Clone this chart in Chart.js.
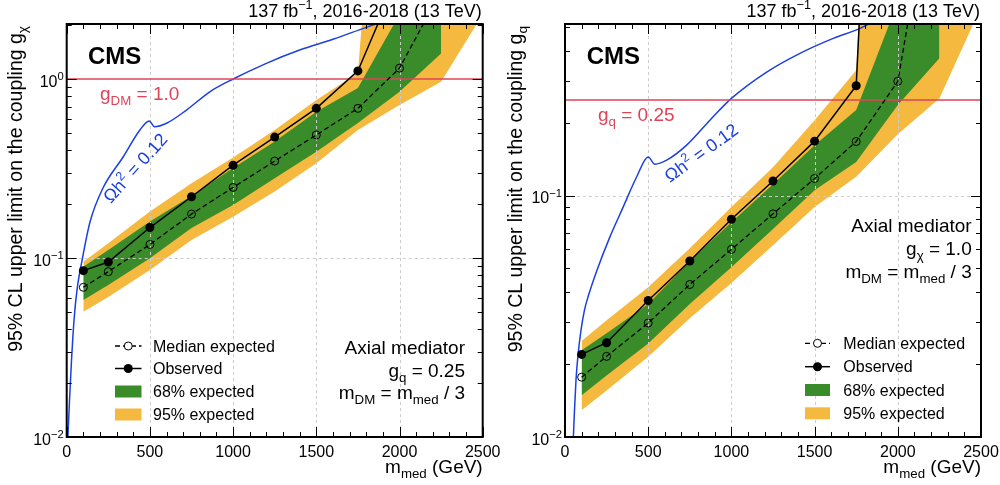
<!DOCTYPE html>
<html>
<head>
<meta charset="utf-8">
<script src="https://cdn.jsdelivr.net/npm/chart.js@4.4.1/dist/chart.umd.min.js"></script>
<style>
  html, body { margin: 0; padding: 0; background: #fff; }
  #wrap { position: relative; width: 1000px; height: 485px; }
  .panel { position: absolute; top: 0; width: 500px; height: 485px; }
</style>
</head>
<body>
<div id="wrap">
  <div class="panel" style="left:0"><canvas id="leftChart" width="500" height="485"></canvas></div>
  <div class="panel" style="left:500px"><canvas id="rightChart" width="500" height="485"></canvas></div>
</div>
<script>
// mediator masses (GeV)
const masses = [100, 250, 500, 750, 1000, 1250, 1500, 1750, 2000, 2250, 2500];

// left panel: limit on g_chi (g_q = 0.25)
const leftExpected = [0.0686, 0.0839, 0.119, 0.176, 0.248, 0.348, 0.487, 0.686, 1.15, 3.1, null];
const leftObserved = [0.085, 0.095, 0.148, 0.220, 0.330, 0.474, 0.686, 1.11, 3.9, null, null];
const left68Lo = [0.0583, 0.0707, 0.0996, 0.147, 0.198, 0.279, 0.393, 0.568, 0.849, 1.39, null];
const left68Hi = [0.0894, 0.111, 0.160, 0.222, 0.318, 0.447, 0.657, 0.891, 2.3, 10, null];
const left95Lo = [0.0501, 0.0605, 0.0857, 0.126, 0.170, 0.235, 0.338, 0.519, 0.716, 0.966, 2.3];
const left95Hi = [0.0954, 0.121, 0.182, 0.262, 0.365, 0.519, 0.763, 1.08, 1000, 1000, 1000];
const leftRelicMass = [6, 17, 29, 44, 62, 95, 140, 218, 340, 440, 496, 528, 600, 720, 860, 1000, 1200, 1400, 1600, 1800, 2000];
const leftRelicVal = [0.0095, 0.0161, 0.0269, 0.0450, 0.0663, 0.100, 0.159, 0.246, 0.368, 0.519, 0.583, 0.541, 0.566, 0.671, 0.849, 1.0, 1.224, 1.452, 1.667, 1.944, 2.25];
const leftCoupling = 1.0;

// right panel: limit on g_q (g_chi = 1.0)
const rightExpected = [0.0177, 0.0216, 0.0297, 0.0429, 0.060, 0.0842, 0.118, 0.168, 0.2985, 3.0, null];
const rightObserved = [0.0220, 0.0246, 0.0368, 0.0537, 0.080, 0.1153, 0.1686, 0.286, 1000, null, null];
const right68Lo = [0.0149, 0.0180, 0.0244, 0.0356, 0.0506, 0.0728, 0.1056, 0.138, 0.238, 0.372, null];
const right68Hi = [0.0229, 0.0269, 0.0356, 0.0536, 0.0778, 0.1118, 0.1623, 0.227, 0.637, 5, null];
const right95Lo = [0.0129, 0.0156, 0.0215, 0.0311, 0.0435, 0.0624, 0.0898, 0.120, 0.180, 0.2535, 0.607];
const right95Hi = [0.0250, 0.0305, 0.0418, 0.0607, 0.0898, 0.1315, 0.206, 0.332, 1000, 1000, 1000];
const rightRelicMass = [49, 57, 66, 78, 96, 117, 140, 190, 270, 350, 431, 500, 540, 611, 731, 871, 1000, 1212, 1412, 1612, 1773, 1900];
const rightRelicVal = [0.0095, 0.0129, 0.0172, 0.0218, 0.0277, 0.0336, 0.0384, 0.0487, 0.0676, 0.0900, 0.120, 0.145, 0.1353, 0.1406, 0.1623, 0.206, 0.2535, 0.326, 0.390, 0.450, 0.495, 0.55];
const rightCoupling = 0.25;

// axis ticks
const xTicks = [0, 500, 1000, 1500, 2000, 2500];
const xTickLabels = ['0', '500', '1000', '1500', '2000', '2500'];
const xGridValues = [500, 1000, 1500, 2000];
const leftYTicks = [0.01, 0.1, 1];
const leftYTickExp = ['−2', '−1', '0'];
const rightYTicks = [0.01, 0.1];
const rightYTickExp = ['−2', '−1'];
const legendLabels = ['Median expected', 'Observed', '68% expected', '95% expected'];

const FONT = '"Liberation Sans", Arial, Helvetica, sans-serif';
const GREEN = '#3a8c2a';
const YELLOW = '#f6b940';
const RED = '#de4458';
const BLUE = '#1c3fe0';

function setFont(ctx, size, bold) {
    ctx.font = (bold ? 'bold ' : '') + size + 'px ' + FONT;
}

// text with sub/superscripts: parts = [[text, ''|'sub'|'sup'], ...]
function drawRich(ctx, parts, x, y, size, opts) {
    opts = opts || {};
    const small = size * 0.7;
    let w = 0;
    const items = parts.map(([t, k]) => {
        const s = k ? small : size;
        setFont(ctx, s, opts.bold);
        const wd = ctx.measureText(t).width;
        w += wd;
        return { t, k, s, wd };
    });
    let cx = opts.align === 'right' ? x - w : opts.align === 'center' ? x - w / 2 : x;
    ctx.fillStyle = opts.color || '#000';
    ctx.textAlign = 'left';
    ctx.textBaseline = 'alphabetic';
    items.forEach(it => {
        setFont(ctx, it.s, opts.bold);
        const dy = it.k === 'sub' ? size * 0.28 : it.k === 'sup' ? -size * 0.42 : 0;
        ctx.fillText(it.t, cx, y + dy);
        cx += it.wd;
    });
}

function line(ctx, x1, y1, x2, y2) {
    ctx.beginPath();
    ctx.moveTo(x1, y1);
    ctx.lineTo(x2, y2);
    ctx.stroke();
}

function pts(xs, ys) {
    const out = [];
    xs.forEach((x, i) => { if (ys[i] !== null) out.push({ x, y: ys[i] }); });
    return out;
}

function makeDecor(panel) {
    return {
        id: 'decor',
        afterDatasetDraw(chart, args) {
            // grid goes above the bands, below the lines
            if (args.index !== 3) return;
            const { ctx, chartArea: a, scales: { x, y } } = chart;
            ctx.save();
            ctx.strokeStyle = '#cccccc';
            ctx.lineWidth = 1;
            ctx.setLineDash([3, 3]);
            xGridValues.forEach(v => {
                const px = Math.round(x.getPixelForValue(v)) + 0.5;
                line(ctx, px, a.top, px, a.bottom);
            });
            panel.yGrid.forEach(v => {
                const py = Math.round(y.getPixelForValue(v)) + 0.5;
                line(ctx, a.left, py, a.right, py);
            });
            ctx.restore();
        },
        afterDraw(chart) {
            const { ctx, chartArea: a, scales: { x, y } } = chart;
            ctx.save();

            // tick marks, inside the frame on all sides
            ctx.strokeStyle = '#000';
            ctx.lineWidth = 1;
            for (let v = 0; v <= 2500; v += 100) {
                const px = Math.round(x.getPixelForValue(v)) + 0.5;
                const len = v % 500 === 0 ? 10 : 5;
                line(ctx, px, a.bottom, px, a.bottom - len);
                line(ctx, px, a.top, px, a.top + len);
            }
            for (let d = -2; d <= 0; d++) {
                for (let k = 1; k <= 9; k++) {
                    const v = k * Math.pow(10, d);
                    if (v > panel.yMax) continue;
                    const py = Math.round(y.getPixelForValue(v)) + 0.5;
                    const len = k === 1 ? 10 : 5;
                    line(ctx, a.left, py, a.left + len, py);
                    line(ctx, a.right, py, a.right - len, py);
                }
            }

            // frame
            ctx.lineWidth = 2;
            ctx.strokeRect(a.left, a.top, a.right - a.left, a.bottom - a.top);

            // tick labels
            xTicks.forEach((v, i) => {
                drawRich(ctx, [[xTickLabels[i], '']], x.getPixelForValue(v), a.bottom + 20, 16, { align: 'center' });
            });
            panel.yTicks.forEach((v, i) => {
                drawRich(ctx, [['10', ''], [panel.yTickExp[i], 'sup']], a.left - 3, y.getPixelForValue(v) + 7.5, 16, { align: 'right' });
            });

            // axis titles
            drawRich(ctx, [['m', ''], ['med', 'sub'], [' (GeV)', '']], a.right, 473, 19, { align: 'right' });
            ctx.save();
            ctx.translate(21.5, 26);
            ctx.rotate(-Math.PI / 2);
            drawRich(ctx, [['95% CL upper limit on the coupling g', ''], [panel.ySub, 'sub']], 0, 0, 19.5, { align: 'right' });
            ctx.restore();

            // header and CMS
            drawRich(ctx, [['137 fb', ''], ['−1', 'sup'], [', 2016-2018 (13 TeV)', '']], a.right - 1, 17, 18, { align: 'right' });
            drawRich(ctx, [['CMS', '']], panel.cmsX, 64, 24, { bold: true });

            // coupling line label
            drawRich(ctx, panel.couplingLabel, panel.couplingPos[0], panel.couplingPos[1], 19, { color: RED });

            // relic density label
            ctx.save();
            ctx.translate(panel.relicPos[0], panel.relicPos[1]);
            ctx.rotate(panel.relicAngle * Math.PI / 180);
            drawRich(ctx, [['Ωh', ''], ['2', 'sup'], [' = 0.12', '']], 0, 0, 18, { color: BLUE });
            ctx.restore();

            // model annotation
            panel.annot.forEach((parts, i) => {
                drawRich(ctx, parts, panel.annotX, panel.annotY[i], 19, { align: 'right' });
            });

            // legend
            const [lx0, lx1, tx] = panel.legendX;
            const ly = panel.legendY;
            const mid = (lx0 + lx1) / 2;
            ctx.strokeStyle = '#000';
            ctx.lineWidth = 1.3;
            ctx.setLineDash([5, 3]);
            line(ctx, lx0, ly[0], lx1, ly[0]);
            ctx.setLineDash([]);
            ctx.fillStyle = '#fff';
            ctx.lineWidth = 1;
            ctx.beginPath();
            ctx.arc(mid, ly[0], 4, 0, Math.PI * 2);
            ctx.fill();
            ctx.stroke();
            ctx.lineWidth = 1.5;
            line(ctx, lx0, ly[1], lx1, ly[1]);
            ctx.fillStyle = '#000';
            ctx.beginPath();
            ctx.arc(mid, ly[1], 4.5, 0, Math.PI * 2);
            ctx.fill();
            ctx.fillStyle = GREEN;
            ctx.fillRect(lx0, ly[2] - 6, lx1 - lx0, 12);
            ctx.fillStyle = YELLOW;
            ctx.fillRect(lx0, ly[3] - 6, lx1 - lx0, 12);
            legendLabels.forEach((t, i) => {
                drawRich(ctx, [[t, '']], tx, ly[i] + 5.5, 16);
            });

            ctx.restore();
        }
    };
}

function buildChart(panel) {
    const ctx = document.getElementById(panel.id).getContext('2d');
    const none = 'rgba(0,0,0,0)';
    return new Chart(ctx, {
        type: 'line',
        data: {
            datasets: [
                { data: pts(masses, panel.b95Lo), borderColor: none, borderWidth: 0, pointRadius: 0, fill: false, order: 10 },
                { data: pts(masses, panel.b95Hi), borderColor: none, borderWidth: 0, pointRadius: 0, fill: '-1', backgroundColor: YELLOW, order: 9 },
                { data: pts(masses, panel.b68Lo), borderColor: none, borderWidth: 0, pointRadius: 0, fill: false, order: 8 },
                { data: pts(masses, panel.b68Hi), borderColor: none, borderWidth: 0, pointRadius: 0, fill: '-1', backgroundColor: GREEN, order: 7 },
                { data: pts(panel.relicMass, panel.relicVal), borderColor: BLUE, borderWidth: 1.5, pointRadius: 0, fill: false, cubicInterpolationMode: 'monotone', order: 5 },
                { data: [{ x: 0, y: panel.coupling }, { x: 2500, y: panel.coupling }], borderColor: RED, borderWidth: 1.5, pointRadius: 0, fill: false, order: 4 },
                { data: pts(masses, panel.expected), borderColor: '#000', borderWidth: 1.3, borderDash: [5, 3], fill: false,
                  pointRadius: 4, pointBorderWidth: 1, pointBackgroundColor: none, pointBorderColor: '#000', order: 3 },
                { data: pts(masses, panel.observed), borderColor: '#000', borderWidth: 1.5, fill: false,
                  pointRadius: 4.5, pointBorderWidth: 0, pointBackgroundColor: '#000', pointBorderColor: '#000', order: 2 }
            ]
        },
        options: {
            responsive: false,
            animation: false,
            devicePixelRatio: 1,
            layout: { padding: { left: 0, right: panel.padRight, top: 24, bottom: 0 } },
            plugins: { legend: { display: false }, tooltip: { enabled: false } },
            scales: {
                x: {
                    type: 'linear', min: 0, max: 2500,
                    grid: { display: false }, border: { display: false }, ticks: { display: false },
                    afterFit: s => { s.height = 48; }
                },
                y: {
                    type: 'logarithmic', min: 0.01, max: panel.yMax,
                    grid: { display: false }, border: { display: false }, ticks: { display: false },
                    afterFit: s => { s.width = panel.axisWidth; }
                }
            }
        },
        plugins: [makeDecor(panel)]
    });
}

const leftPanel = {
    id: 'leftChart', yMax: 2.03, padRight: 17.3, axisWidth: 66.7,
    expected: leftExpected, observed: leftObserved,
    b68Lo: left68Lo, b68Hi: left68Hi, b95Lo: left95Lo, b95Hi: left95Hi,
    relicMass: leftRelicMass, relicVal: leftRelicVal, coupling: leftCoupling,
    yTicks: leftYTicks, yTickExp: leftYTickExp, yGrid: [0.1], ySub: 'χ',
    cmsX: 88,
    couplingLabel: [['g', ''], ['DM', 'sub'], [' = 1.0', '']], couplingPos: [100, 100],
    relicPos: [111, 204], relicAngle: -48,
    annot: [
        [['Axial mediator', '']],
        [['g', ''], ['q', 'sub'], [' = 0.25', '']],
        [['m', ''], ['DM', 'sub'], [' = m', ''], ['med', 'sub'], [' / 3', '']]
    ],
    annotX: 465, annotY: [354, 377, 399],
    legendX: [115, 141.5, 153], legendY: [346, 368.5, 391.5, 414.5]
};

const rightPanel = {
    id: 'rightChart', yMax: 0.516, padRight: 19, axisWidth: 65,
    expected: rightExpected, observed: rightObserved,
    b68Lo: right68Lo, b68Hi: right68Hi, b95Lo: right95Lo, b95Hi: right95Hi,
    relicMass: rightRelicMass, relicVal: rightRelicVal, coupling: rightCoupling,
    yTicks: rightYTicks, yTickExp: rightYTickExp, yGrid: [0.1], ySub: 'q',
    cmsX: 86.7,
    couplingLabel: [['g', ''], ['q', 'sub'], [' = 0.25', '']], couplingPos: [98, 120.7],
    relicPos: [170, 183], relicAngle: -36,
    annot: [
        [['Axial mediator', '']],
        [['g', ''], ['χ', 'sub'], [' = 1.0', '']],
        [['m', ''], ['DM', 'sub'], [' = m', ''], ['med', 'sub'], [' / 3', '']]
    ],
    annotX: 471.7, annotY: [232, 255, 278],
    legendX: [305, 330, 343.3], legendY: [343.3, 366.7, 390, 413.3]
};

buildChart(leftPanel);
buildChart(rightPanel);
</script>
</body>
</html>
